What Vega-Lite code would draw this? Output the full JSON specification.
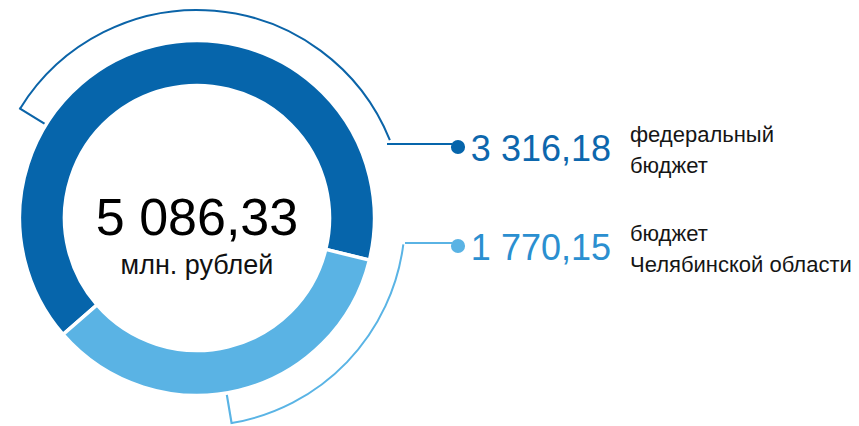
{
  "$schema": "https://vega.github.io/schema/vega-lite/v6.json",
  "width": 394,
  "height": 416,
  "autosize": {"type": "none"},
  "padding": {"left": 0, "top": 10, "right": 465, "bottom": 0},
  "background": "white",
  "config": {
    "view": {"stroke": null},
    "locale": {"number": {"decimal": ",", "thousands": " ", "grouping": [3], "currency": ["", " ₽"]}}
  },
  "datasets": {
    "budget": [
      {"source": "federal", "name": "федеральный\nбюджет", "value": 3316.18},
      {"source": "regional", "name": "бюджет\nЧелябинской области", "value": 1770.15}
    ]
  },
  "data": {"name": "budget"},
  "layer": [
    {
      "transform": [{"filter": "datum.source === 'federal'"}],
      "mark": {"type": "arc", "theta": -1.0175, "theta2": 1.187, "radius": 208, "radius2": 208, "filled": false, "stroke": "#0b64a8", "strokeWidth": 2},
      "encoding": {}
    },
    {
      "transform": [{"filter": "datum.source === 'federal'"}],
      "mark": {"type": "arc", "theta": -1.0175, "theta2": -1.0165, "radius": 208, "radius2": 168, "filled": false, "stroke": "#0b64a8", "strokeWidth": 2},
      "encoding": {}
    },
    {
      "transform": [{"filter": "datum.source === 'regional'"}],
      "mark": {"type": "arc", "theta": 1.698, "theta2": 2.974, "radius": 208, "radius2": 208, "filled": false, "stroke": "#5ab4e5", "strokeWidth": 2},
      "encoding": {}
    },
    {
      "transform": [{"filter": "datum.source === 'regional'"}],
      "mark": {"type": "arc", "theta": 2.974, "theta2": 2.975, "radius": 208, "radius2": 168, "filled": false, "stroke": "#5ab4e5", "strokeWidth": 2},
      "encoding": {}
    },
    {
      "mark": {"type": "arc", "radius": 177.5, "radius2": 132.5, "stroke": "white", "strokeWidth": 3.5},
      "encoding": {
        "theta": {"field": "value", "type": "quantitative", "stack": true, "scale": {"range": [3.9968, 10.28]}},
        "order": {"field": "value", "sort": "descending"},
        "color": {"field": "source", "type": "nominal", "scale": {"domain": ["federal", "regional"], "range": ["#0665ab", "#5ab3e4"]}, "legend": null}
      }
    },
    {
      "transform": [{"aggregate": [{"op": "sum", "field": "value", "as": "total"}]}],
      "mark": {"type": "text", "font": "Liberation Sans", "fontSize": 52, "align": "center", "baseline": "alphabetic", "dy": 17, "color": "#000000"},
      "encoding": {"text": {"field": "total", "type": "quantitative", "format": ",.2f"}}
    },
    {
      "transform": [{"aggregate": [{"op": "sum", "field": "value", "as": "total"}]}],
      "mark": {"type": "text", "font": "Liberation Sans", "fontSize": 27, "align": "center", "baseline": "alphabetic", "dy": 56, "color": "#111111", "text": "млн. рублей"},
      "encoding": {}
    },
    {
      "transform": [{"filter": "datum.source === 'federal'"}],
      "mark": {"type": "rule", "x": 387, "x2": 452, "yOffset": -3, "strokeWidth": 2},
      "encoding": {
        "y": {"field": "source", "type": "nominal", "scale": {"type": "point", "domain": ["federal", "regional"], "range": [137, 236], "padding": 0}, "axis": null},
        "color": {"field": "source", "type": "nominal", "legend": null}
      }
    },
    {
      "transform": [{"filter": "datum.source === 'regional'"}],
      "mark": {"type": "rule", "x": 405, "x2": 452, "yOffset": -3, "strokeWidth": 2},
      "encoding": {
        "y": {"field": "source", "type": "nominal", "axis": null},
        "color": {"field": "source", "type": "nominal", "legend": null}
      }
    },
    {
      "mark": {"type": "point", "shape": "circle", "filled": true, "opacity": 1, "size": 200, "x": 458},
      "encoding": {
        "y": {"field": "source", "type": "nominal", "axis": null},
        "color": {"field": "source", "type": "nominal", "legend": null}
      }
    },
    {
      "mark": {"type": "text", "font": "Liberation Sans", "fontSize": 36, "align": "right", "baseline": "alphabetic", "dy": 14, "x": 611},
      "encoding": {
        "y": {"field": "source", "type": "nominal", "axis": null},
        "text": {"field": "value", "type": "quantitative", "format": ",.2f"},
        "color": {"condition": {"test": "datum.source === 'federal'", "value": "#0d67ad"}, "value": "#2b8fd0"}
      }
    },
    {
      "mark": {"type": "text", "font": "Liberation Sans", "fontSize": 22, "align": "left", "baseline": "alphabetic", "dy": -5, "x": 630, "lineBreak": "\n", "lineHeight": 31, "color": "#151515"},
      "encoding": {
        "y": {"field": "source", "type": "nominal", "axis": null},
        "text": {"field": "name", "type": "nominal"}
      }
    }
  ]
}
